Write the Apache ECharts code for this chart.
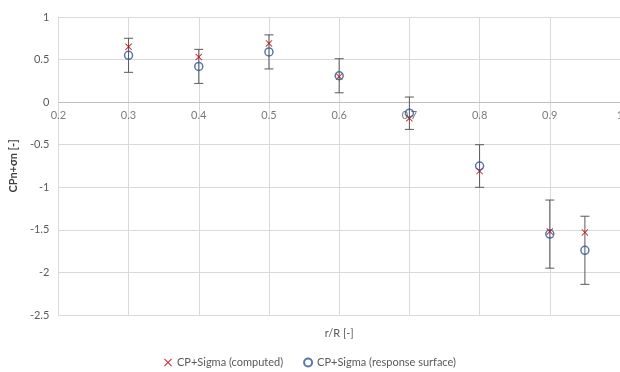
<!DOCTYPE html>
<html>
<head>
<meta charset="utf-8">
<script src="https://cdn.jsdelivr.net/npm/echarts@6/dist/echarts.min.js"></script>
<style>
  html, body { margin: 0; padding: 0; background: #fff; }
  #chart { width: 620px; height: 372px; }
</style>
</head>
<body>
<div id="chart"></div>
<script>
// Radial stations r/R
var rR = [0.3, 0.4, 0.5, 0.6, 0.7, 0.8, 0.9, 0.95];
// CP + sigma from the computation
var computed = [0.65, 0.53, 0.69, 0.30, -0.19, -0.81, -1.52, -1.53];
// CP + sigma from the response surface
var responseSurface = [0.55, 0.42, 0.59, 0.31, -0.13, -0.75, -1.55, -1.74];
// Half-width of the error bars on the response surface values
var sigma = [0.20, 0.20, 0.20, 0.20, 0.19, 0.25, 0.40, 0.40];

var xTicks = [0.2, 0.3, 0.4, 0.5, 0.6, 0.7, 0.8, 0.9, 1];
var yTicks = [1, 0.5, 0, -0.5, -1, -1.5, -2, -2.5];

var font = 'Lato, "Open Sans", sans-serif';
var textGray = '#595959';
var gridGray = '#d9d9d9';

var computedPts = rR.map(function (x, i) { return [x, computed[i]]; });
var surfacePts = rR.map(function (x, i) { return [x, responseSurface[i]]; });
var errPts = rR.map(function (x, i) {
  return [x, responseSurface[i] - sigma[i], responseSurface[i] + sigma[i]];
});
// x tick labels sit on the zero line
var xTickPts = xTicks.map(function (x) { return [x, 0]; });

var crossPath = 'path://M0,1 L1,0 L5,4 L9,0 L10,1 L6,5 L10,9 L9,10 L5,6 L1,10 L0,9 L4,5 Z';

var chart = echarts.init(document.getElementById('chart'), null, { renderer: 'canvas' });
chart.setOption({
  animation: false,
  backgroundColor: '#ffffff',
  grid: { left: 56, right: -1, top: 17, bottom: 57, containLabel: false },
  xAxis: [
    {
      type: 'value',
      min: xTicks[0],
      max: xTicks[xTicks.length - 1],
      interval: 0.1,
      axisLine: { onZero: true, lineStyle: { color: '#bfbfbf', width: 1 } },
      axisTick: { show: false },
      axisLabel: { show: false },
      splitLine: { show: true, lineStyle: { color: gridGray, width: 1 } }
    },
    {
      type: 'value',
      position: 'bottom',
      min: xTicks[0],
      max: xTicks[xTicks.length - 1],
      interval: 0.1,
      name: 'r/R [-]',
      nameLocation: 'middle',
      nameGap: 13,
      nameTextStyle: { color: textGray, fontFamily: font, fontSize: 11 },
      axisLine: { show: false, onZero: false },
      axisTick: { show: false },
      axisLabel: { show: false },
      splitLine: { show: false }
    }
  ],
  yAxis: {
    type: 'value',
    min: yTicks[yTicks.length - 1],
    max: yTicks[0],
    interval: 0.5,
    name: 'CPn+σn [-]',
    nameLocation: 'middle',
    nameGap: 38,
    nameRotate: 90,
    nameTextStyle: { color: '#404040', fontFamily: font, fontSize: 11, fontWeight: 'bold' },
    axisLine: { show: true, onZero: false, lineStyle: { color: gridGray, width: 1 } },
    axisTick: { show: false },
    axisLabel: { color: textGray, fontFamily: font, fontSize: 11, margin: 9 },
    splitLine: { show: true, lineStyle: { color: gridGray, width: 1 } }
  },
  legend: {
    bottom: -1,
    left: 'center',
    itemGap: 20,
    itemWidth: 8,
    itemHeight: 8,
    textStyle: { color: textGray, fontFamily: font, fontSize: 11 },
    data: ['CP+Sigma (computed)', 'CP+Sigma (response surface)']
  },
  series: [
    {
      name: 'ticks',
      type: 'scatter',
      data: xTickPts,
      symbolSize: 0,
      silent: true,
      z: 1,
      label: {
        show: true,
        position: 'bottom',
        distance: 8,
        color: textGray,
        fontFamily: font,
        fontSize: 11,
        formatter: function (p) { return String(Math.round(p.value[0] * 10) / 10); }
      }
    },
    {
      name: 'error',
      type: 'custom',
      data: errPts,
      z: 2,
      silent: true,
      renderItem: function (params, api) {
        var x = api.value(0);
        var lo = api.coord([x, api.value(1)]);
        var hi = api.coord([x, api.value(2)]);
        var cap = 4.5;
        var st = { stroke: '#595959', lineWidth: 1 };
        return {
          type: 'group',
          children: [
            { type: 'line', shape: { x1: hi[0], y1: hi[1], x2: lo[0], y2: lo[1] }, style: st },
            { type: 'line', shape: { x1: hi[0] - cap, y1: hi[1], x2: hi[0] + cap, y2: hi[1] }, style: st },
            { type: 'line', shape: { x1: lo[0] - cap, y1: lo[1], x2: lo[0] + cap, y2: lo[1] }, style: st }
          ]
        };
      }
    },
    {
      name: 'CP+Sigma (computed)',
      type: 'scatter',
      data: computedPts,
      symbol: crossPath,
      symbolSize: 7,
      z: 3,
      itemStyle: { color: '#c00000' }
    },
    {
      name: 'CP+Sigma (response surface)',
      type: 'scatter',
      data: surfacePts,
      symbol: 'circle',
      symbolSize: 8,
      z: 4,
      itemStyle: { color: 'rgba(0,0,0,0)', borderColor: '#2f5597', borderWidth: 1.5 }
    }
  ]
});
</script>
</body>
</html>
